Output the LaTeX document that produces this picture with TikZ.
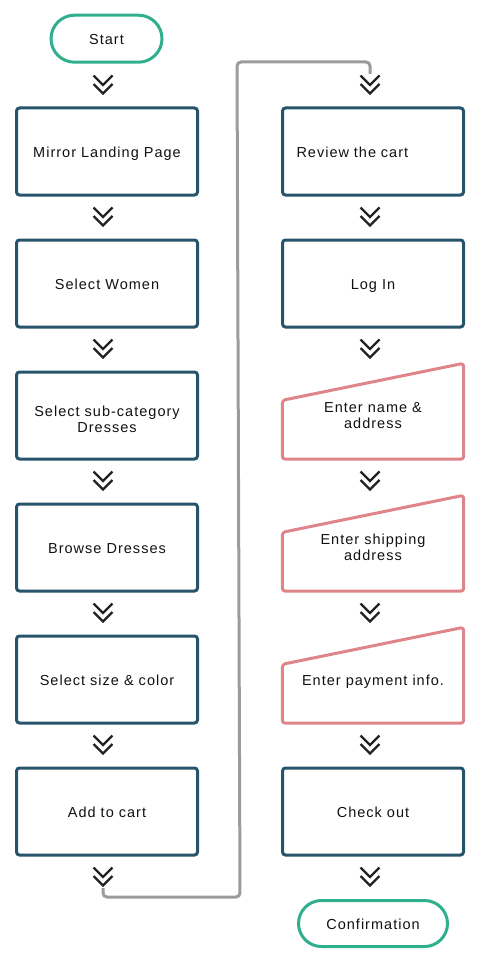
\documentclass[tikz,border=0pt]{standalone}
\usepackage{fontspec}
\setmainfont{Liberation Sans}[LetterSpace=7]
\usetikzlibrary{calc,shapes.misc}
\definecolor{boxc}{HTML}{27536B}
\definecolor{termc}{HTML}{2FAF8E}
\definecolor{inpc}{HTML}{DF8489}
\definecolor{linec}{HTML}{9B9B9B}
\definecolor{chevc}{HTML}{222222}
\definecolor{txtc}{HTML}{111111}
\begin{document}
\begin{tikzpicture}[x=1pt,y=-1pt,
  every node/.style={font=\fontsize{14.5}{16.3}\selectfont, text=txtc, align=center, text height=13pt, text depth=1pt},
  twoline/.style={text height=34pt, text depth=0.4pt},
  twolinein/.style={text height=26.4pt, text depth=0.4pt},
  procbox/.style={draw=boxc, line width=3pt, rounded corners=3pt, minimum width=181pt, minimum height=87pt, inner sep=2pt},
  inbox/.style={minimum width=181pt, minimum height=87pt, inner sep=2pt},
  inshape/.style={draw=inpc, line width=3pt, rounded corners=3pt, line join=round},
  term/.style={draw=termc, line width=3pt, rounded rectangle, minimum height=47pt, inner sep=0pt},
  chev/.style={draw=chevc, line width=2.2pt},
  flowline/.style={draw=linec, line width=3pt, rounded corners=4pt}]
\useasboundingbox (0,0) rectangle (487,963);
% left column
\node[term, minimum width=111pt] (start) at (106.5,38.7) {Start};
\node[procbox] (l1) at (107,151.5) {Mirror Landing Page};
\node[procbox] (l2) at (107,283.5) {Select Women};
\node[procbox, twoline] (l3) at (107,415.5) {Select sub-category\\Dresses};
\node[procbox] (l4) at (107,547.5) {Browse Dresses};
\node[procbox] (l5) at (107,679.5) {Select size \& color};
\node[procbox] (l6) at (107,811.5) {Add to cart};
% right column
\node[procbox, text width=153pt, align=left, inner xsep=14pt] (r1) at (373,151.5) {Review the cart};
\node[procbox] (r2) at (373,283.5) {Log In};
\node[inbox, twolinein] (r3) at (373,415.5) {Enter name \&\\address};
\node[inbox, twolinein] (r4) at (373,547.5) {Enter shipping\\address};
\node[inbox] (r5) at (373,679.5) {Enter payment info.};
\node[procbox] (r6) at (373,811.5) {Check out};
\node[term, minimum width=149pt, minimum height=46pt] (conf) at (373,923.5) {Confirmation};
% input shapes
\foreach \n in {r3,r4,r5}
  \draw[inshape] (\n.south west) -- (\n.south east) -- ([yshift=8.5pt]\n.north east) -- ([yshift=-28.5pt]\n.north west) -- cycle;
% chevrons
\foreach \cx in {103,370}{
  \foreach \k in {0,...,6}{
    \pgfmathsetmacro\yc{85+132*\k}
    \draw[chev] (\cx-9.5,\yc-9.5) -- (\cx,\yc) -- (\cx+9.5,\yc-9.5);
    \draw[chev] (\cx-9.5,\yc-1) -- (\cx,\yc+8.5) -- (\cx+9.5,\yc-1);
  }
}
% connector between columns
\coordinate (gs) at (103,888);
\coordinate (ge) at (370,74);
\draw[flowline] (gs) -- (103,897) -- (240,897) -- (237,62) -- (370,62) -- (ge);
\end{tikzpicture}
\end{document}
